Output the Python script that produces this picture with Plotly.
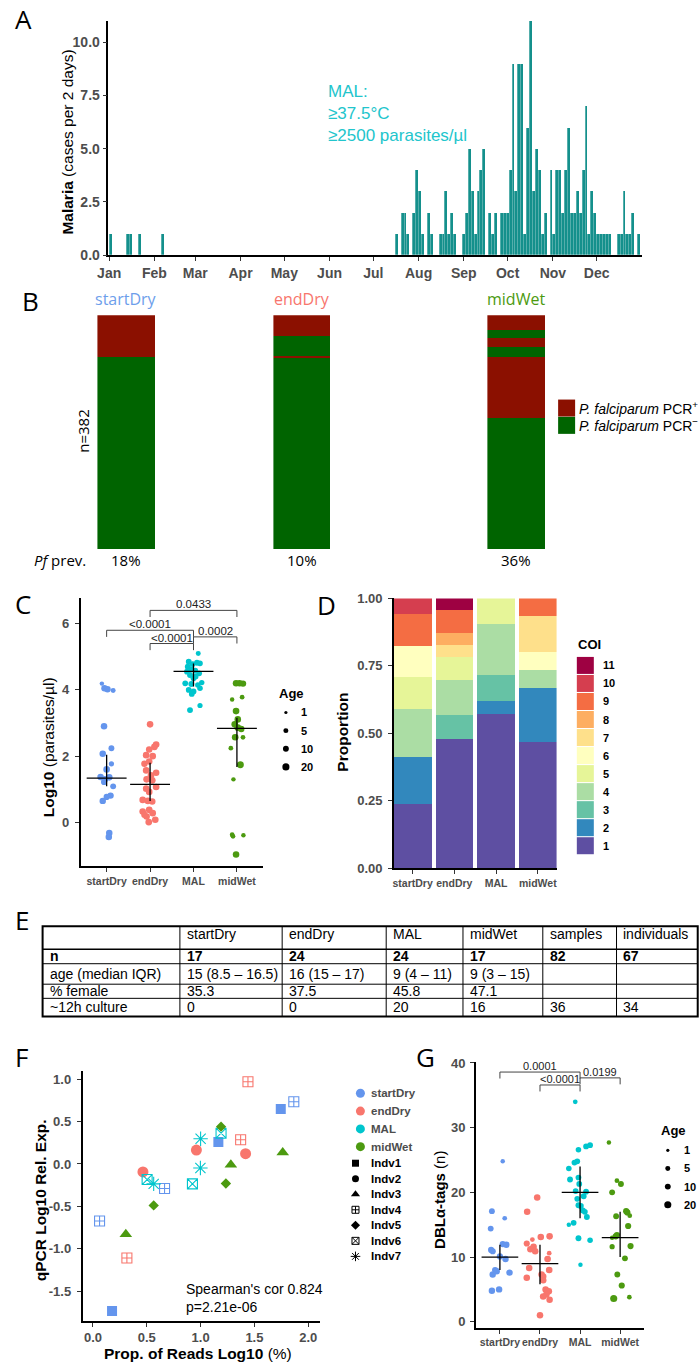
import datetime as dt
import plotly.graph_objects as go

W, H = 699, 1371
def X(px): return px / W
def Y(py): return 1 - py / H

FONT = "Liberation Sans, Arial, Helvetica, sans-serif"
HUM = "Open Sans, sans-serif"
GRAY = "#4D4D4D"

# ======================= DATA =======================
# ---- Panel A: malaria cases per 2-day bin (bin number counted from Jan 1) ----
month_labels = ["Jan", "Feb", "Mar", "Apr", "May", "Jun", "Jul", "Aug", "Sep", "Oct", "Nov", "Dec"]
case_bins = [0, 6, 7, 10, 18,
             98, 100, 101, 102, 104, 105, 106, 107, 109, 110, 113, 114, 115, 116, 117, 118,
             121, 122, 123, 124, 125, 126, 127, 128, 130, 131, 132, 134, 135, 136, 137, 138,
             139, 140, 141, 142, 143, 144, 145, 146, 147, 148, 149, 151, 152, 153, 154, 155,
             156, 157, 158, 159, 160, 161, 162, 163, 164, 165, 166, 167, 168, 169, 170, 171,
             174, 175, 176, 177, 178, 179, 181]
case_counts = [1, 1, 1, 1, 1,
               1, 2, 2, 1, 2, 4, 3, 1, 2, 1, 1, 1, 3, 1, 2, 1,
               1, 2, 5, 3, 1, 3, 4, 5, 2, 1, 2, 2, 2, 2, 4, 9,
               3, 9, 9, 1, 6, 11, 3, 5, 4, 1, 2, 4, 1, 4, 4, 2,
               4, 6, 2, 2, 3, 2, 4, 7, 1, 3, 2, 1, 1, 1, 1, 1,
               1, 1, 3, 1, 1, 2, 1]

# ---- Panel B: stacked individuals (bottom -> top, alternating PCR- / PCR+) ----
b_seasons = ["startDry", "endDry", "midWet"]
b_neg_1 = [313, 312, 214]
b_pos_1 = [69, 3, 100]
b_neg_2 = [0, 32, 16]
b_pos_2 = [0, 35, 14]
b_neg_3 = [0, 0, 14]
b_pos_3 = [0, 0, 24]
b_n_total = 382
b_legend_labels = ["<i>P. falciparum</i> PCR<sup>+</sup>", "<i>P. falciparum</i> PCR<sup>\u2212</sup>"]

# ---- Panel C: log10 parasites/ul ----
groups = ["startDry", "endDry", "MAL", "midWet"]
c_sd_val = [4.19, 4.05, 4.02, 3.98, 2.90, 2.24, 2.07, 1.77, 1.60, 1.37, 1.30, 1.36, 1.22, 1.09, 0.81, 0.77, 0.65, -0.32, -0.44]
c_sd_jit = [-0.11, -0.05, 0.02, 0.15, -0.06, 0.11, -0.09, 0.11, 0.0, -0.14, -0.04, 0.06, -0.06, 0.15, 0.09, 0.0, -0.09, 0.06, 0.05]
c_sd_age = [3, 14, 14, 5, 15, 10, 15, 6, 16, 15, 16, 15, 12, 10, 14, 12, 14, 15, 15]
c_ed_val = [2.96, 2.35, 2.28, 2.20, 2.03, 2.00, 1.84, 1.77, 1.57, 1.42, 1.50, 1.30, 1.27, 1.07, 1.02, 0.92, 0.65, 0.68, 0.63, 0.38, 0.33, 0.28, 0.18, 0.23, 0.08, 0.01]
c_ed_jit = [0.0, 0.14, 0.10, -0.02, -0.09, 0.06, -0.02, -0.13, -0.09, 0.02, 0.14, -0.08, 0.05, 0.14, -0.09, -0.02, -0.05, -0.17, 0.05, -0.02, -0.17, 0.06, -0.08, -0.13, 0.12, -0.03]
c_ed_age = [15, 16, 16, 15, 16, 16, 15, 14, 16, 16, 15, 16, 17, 16, 15, 16, 16, 16, 15, 17, 16, 16, 15, 14, 16, 17]
c_mal_val = [5.10, 4.85, 4.82, 4.78, 4.80, 4.62, 4.58, 4.55, 4.50, 4.45, 4.40, 4.35, 4.20, 4.18, 4.15, 4.22, 4.00, 3.95, 4.05, 3.88, 3.53, 3.39, 4.70]
c_mal_jit = [0.11, -0.11, 0.08, -0.02, 0.15, -0.05, 0.04, -0.15, 0.13, -0.08, 0.05, 0.0, -0.19, -0.05, 0.10, 0.19, -0.11, 0.0, 0.15, -0.04, 0.15, -0.08, -0.13]
c_mal_age = [5, 9, 10, 9, 8, 9, 10, 9, 9, 10, 8, 9, 9, 10, 8, 7, 9, 10, 8, 9, 6, 10, 11]
c_mw_val = [4.20, 4.20, 4.19, 3.71, 3.78, 3.36, 3.11, 2.96, 2.86, 2.82, 2.57, 2.57, 2.24, 1.74, 1.30, -0.37, -0.42, -0.39, -0.97]
c_mw_jit = [-0.02, 0.06, 0.14, -0.11, 0.12, -0.02, 0.02, -0.05, 0.02, 0.10, -0.04, 0.14, -0.14, 0.08, -0.08, -0.11, -0.09, 0.15, -0.02]
c_mw_age = [15, 14, 14, 3, 4, 16, 15, 16, 16, 14, 16, 4, 4, 18, 3, 4, 4, 3, 15]
c_median = [1.34, 1.15, 4.56, 2.84]
c_q1 = [1.09, 0.65, 4.10, 1.67]
c_q3 = [2.04, 1.80, 4.80, 3.16]
c_pairs = [(2, 4), (1, 3), (2, 3), (3, 4)]
c_pvals = ["0.0433", "<0.0001", "<0.0001", "0.0002"]
c_bracket_y = [6.4, 5.8, 5.4, 5.6]

age_levels = [1, 5, 10, 20]

# ---- Panel D: COI counts per group (startDry, endDry, MAL, midWet) ----
coi_levels = [1, 2, 3, 4, 5, 6, 7, 8, 9, 10, 11]
coi_counts = [
    [4, 11, 12, 7],   # 1
    [3, 0, 1, 3],     # 2
    [0, 2, 2, 0],     # 3
    [3, 3, 4, 1],     # 4
    [2, 2, 2, 0],     # 5
    [2, 0, 0, 1],     # 6
    [0, 1, 0, 2],     # 7
    [0, 1, 0, 0],     # 8
    [2, 2, 0, 1],     # 9
    [1, 0, 0, 0],     # 10
    [0, 1, 0, 0],     # 11
]

# ---- Panel E: table ----
tab_header = ["", "startDry", "endDry", "MAL", "midWet", "samples", "individuals"]
tab_row_labels = ["n", "age (median IQR)", "% female", "~12h culture"]
tab_n = ["17", "24", "24", "17", "82", "67"]
tab_age = ["15 (8.5 \u2013 16.5)", "16 (15 \u2013 17)", "9 (4 \u2013 11)", "9 (3 \u2013 15)", "", ""]
tab_female = ["35.3", "37.5", "45.8", "47.1", "", ""]
tab_culture = ["0", "0", "20", "16", "36", "34"]

# ---- Panel F ----
f_x = [1.745, 1.165, 0.177, 1.866, 0.665, 0.061,
       0.961, 0.464, 1.418, 1.372, 0.315, 1.440,
       1.000, 0.998, 0.564, 0.503, 0.924, 1.190,
       1.190, 1.235, 0.564, 1.281, 1.763, 0.305]
f_y = [0.648, 0.258, -1.735, 0.734, -0.290, -0.673,
       0.164, -0.094, 0.121, 0.285, -1.110, 0.970,
       0.297, -0.047, -0.235, -0.184, -0.235, 0.363,
       0.440, -0.231, -0.489, -0.008, 0.136, -0.830]
f_group = ["startDry"] * 6 + ["endDry"] * 6 + ["MAL"] * 6 + ["midWet"] * 6
f_indv = ["Indv1", "Indv1", "Indv1", "Indv4", "Indv4", "Indv4",
          "Indv2", "Indv2", "Indv2", "Indv4", "Indv4", "Indv4",
          "Indv7", "Indv7", "Indv7", "Indv6", "Indv6", "Indv6",
          "Indv5", "Indv5", "Indv5", "Indv3", "Indv3", "Indv3"]
indv_levels = ["Indv1", "Indv2", "Indv3", "Indv4", "Indv5", "Indv6", "Indv7"]
f_cor_text = "Spearman's cor 0.824<br>p=2.21e-06"
f_yticks = [-1.5, -1.0, -0.5, 0.0, 0.5, 1.0]
f_xticks = [0.0, 0.5, 1.0, 1.5, 2.0]

# ---- Panel G: DBLa-tags ----
g_sd_val = [24.8, 17.1, 16.0, 14.4, 12.0, 11.9, 11.1, 10.9, 10.1, 9.7, 8.0, 7.8, 7.6, 7.3, 4.8, 5.0]
g_sd_jit = [0.07, -0.20, 0.12, -0.23, 0.07, 0.16, -0.22, -0.18, 0.0, 0.14, -0.12, -0.08, 0.24, -0.18, -0.20, -0.02]
g_sd_age = [3, 10, 4, 10, 12, 14, 12, 12, 12, 14, 12, 14, 14, 14, 14, 14]
g_ed_val = [19.2, 17.0, 12.7, 13.1, 13.2, 12.1, 11.6, 11.2, 10.9, 10.6, 9.7, 8.3, 8.0, 7.3, 7.0, 6.4, 6.8, 5.0, 4.7, 4.2, 3.9, 3.4, 1.0]
g_ed_jit = [-0.07, -0.32, -0.19, 0.02, 0.24, -0.33, -0.16, -0.24, -0.12, 0.23, 0.19, -0.27, 0.23, 0.04, 0.08, 0.08, -0.33, 0.14, 0.22, 0.16, 0.08, 0.24, 0.0]
g_ed_age = [15, 15, 4, 15, 15, 12, 15, 15, 15, 4, 16, 15, 16, 15, 15, 15, 15, 15, 16, 15, 16, 15, 15]
g_mal_val = [34.0, 26.6, 27.1, 27.3, 24.6, 24.8, 23.7, 22.0, 22.3, 21.3, 20.2, 20.1, 19.4, 19.0, 18.0, 17.9, 17.2, 17.0, 16.2, 15.3, 15.0, 12.9, 12.6, 8.8]
g_mal_jit = [-0.12, -0.04, 0.15, 0.25, -0.14, -0.07, -0.28, -0.25, -0.04, -0.02, -0.11, 0.15, 0.09, -0.07, -0.04, 0.02, 0.07, 0.12, 0.17, -0.16, -0.28, -0.04, 0.25, 0.01]
g_mal_age = [4, 8, 9, 9, 9, 9, 8, 10, 9, 9, 9, 9, 10, 9, 10, 9, 9, 9, 10, 9, 3, 10, 8, 3]
g_mw_val = [27.7, 21.8, 21.3, 20.0, 16.3, 17.1, 16.9, 16.4, 14.8, 13.4, 13.2, 13.0, 11.6, 11.7, 9.8, 7.3, 5.6, 3.6, 3.8]
g_mw_jit = [-0.28, -0.08, 0.02, -0.20, -0.10, 0.15, 0.18, 0.24, 0.20, -0.08, -0.11, -0.20, -0.20, 0.26, 0.12, -0.07, 0.04, -0.16, 0.23]
g_mw_age = [3, 4, 10, 10, 10, 12, 12, 4, 12, 12, 12, 3, 6, 12, 10, 10, 12, 20, 4]
g_median = [10.0, 9.0, 20.0, 13.0]
g_q1 = [8.0, 5.8, 16.0, 10.0]
g_q3 = [11.9, 11.9, 24.0, 17.0]
g_pairs = [(1, 3), (2, 3), (3, 4)]
g_pvals = ["0.0001", "<0.0001", "0.0199"]
g_bracket_y = [38.6, 36.6, 37.7]

# ======================= STYLE =======================
group_colors = {"startDry": "#6495ED", "endDry": "#F8766D", "MAL": "#00C5CD", "midWet": "#4C9A10"}
b_label_colors = {"startDry": "#6D9EEB", "endDry": "#F8766D", "midWet": "#4C9A10"}
PCR_POS = "#8B1000"
PCR_NEG = "#006400"
BAR_A = "#14908C"
spectral = ["#5E4FA2", "#3288BD", "#66C2A5", "#ABDDA4", "#E6F598", "#FFFFBF",
            "#FEE08B", "#FDAE61", "#F46D43", "#D53E4F", "#9E0142"]
indv_symbol = {"Indv1": "square", "Indv2": "circle", "Indv3": "triangle-up",
               "Indv4": "square-cross-open", "Indv5": "diamond", "Indv6": "square-x-open",
               "Indv7": "asterisk-open"}
indv_size = {"Indv1": 10, "Indv2": 11, "Indv3": 11, "Indv4": 10, "Indv5": 8, "Indv6": 10, "Indv7": 12}
CAT_TICK = 10.5


def age_size(a):
    return 3.2 + 3.9 * ((a - 1) / 19.0) ** 0.5


def fmt1(v):
    return f"{v:.1f}"   # plain hyphen minus like the reference


def ax(size=13, **kw):
    d = dict(showline=True, linecolor="black", linewidth=1.6, ticks="outside", ticklen=4,
             tickwidth=1.2, tickcolor="#333333", showgrid=False, zeroline=False,
             tickfont=dict(family=FONT, size=size, color=GRAY, weight="bold"), fixedrange=True)
    d.update(kw)
    return d


fig = go.Figure()

# ---------------- Panel A ----------------
jan1 = dt.datetime(2017, 1, 1)
bin_centers = [jan1 + dt.timedelta(days=2 * b + 1) for b in case_bins]
fig.add_trace(go.Bar(x=bin_centers, y=case_counts, width=2 * 86400000,
                     marker=dict(color=BAR_A, line=dict(color="rgba(255,255,255,0.55)", width=0.5)),
                     xaxis="x", yaxis="y", showlegend=False))

# ---------------- Panel B ----------------
b_layers = [b_neg_1, b_pos_1, b_neg_2, b_pos_2, b_neg_3, b_pos_3]
b_layer_cols = [PCR_NEG, PCR_POS, PCR_NEG, PCR_POS, PCR_NEG, PCR_POS]
b_axes = ["x2", "x3", "x4"]
for i, s in enumerate(b_seasons):
    for layer, col in zip(b_layers, b_layer_cols):
        fig.add_trace(go.Bar(x=[s], y=[layer[i]], width=1, marker=dict(color=col, line=dict(width=0)),
                             xaxis=b_axes[i], yaxis="y2", showlegend=False))

# ---------------- Panel C ----------------
c_sets = [(c_sd_val, c_sd_jit, c_sd_age), (c_ed_val, c_ed_jit, c_ed_age),
          (c_mal_val, c_mal_jit, c_mal_age), (c_mw_val, c_mw_jit, c_mw_age)]
for gi, (vals, jit, ages) in enumerate(c_sets):
    fig.add_trace(go.Scatter(x=[gi + 1 + j for j in jit], y=vals, mode="markers",
                             marker=dict(size=[age_size(a) for a in ages], color=group_colors[groups[gi]],
                                         opacity=1, line=dict(width=0)),
                             xaxis="x5", yaxis="y5", showlegend=False))
fig.add_trace(go.Scatter(x=[1, 2, 3, 4], y=c_median, mode="markers",
                         marker=dict(symbol="line-ew-open", size=28.5, color="black", opacity=1,
                                     line=dict(color="black", width=1.3)),
                         error_y=dict(type="data", symmetric=False,
                                      array=[q - m for q, m in zip(c_q3, c_median)],
                                      arrayminus=[m - q for q, m in zip(c_q1, c_median)],
                                      width=0, thickness=1.3, color="black"),
                         xaxis="x5", yaxis="y5", showlegend=False))

# ---------------- Panel D ----------------
totals = [sum(coi_counts[k][g] for k in range(len(coi_levels))) for g in range(4)]
for k, lev in enumerate(coi_levels):
    fig.add_trace(go.Bar(x=[1, 2, 3, 4], y=[coi_counts[k][g] / totals[g] for g in range(4)], width=0.9,
                         marker=dict(color=spectral[k], line=dict(width=0)),
                         xaxis="x6", yaxis="y6", showlegend=False))

# ---------------- Panel F ----------------
for g in groups:
    idx = [i for i, gg in enumerate(f_group) if gg == g]
    syms = [indv_symbol[f_indv[i]] for i in idx]
    fig.add_trace(go.Scatter(x=[f_x[i] for i in idx], y=[f_y[i] for i in idx], mode="markers",
                             marker=dict(symbol=syms, size=[indv_size[f_indv[i]] for i in idx],
                                         color=group_colors[g], opacity=1,
                                         line=dict(color=group_colors[g],
                                                   width=[1.1 if s.endswith("open") else 0 for s in syms])),
                             xaxis="x7", yaxis="y7", showlegend=False))

# ---------------- Panel G ----------------
g_sets = [(g_sd_val, g_sd_jit, g_sd_age), (g_ed_val, g_ed_jit, g_ed_age),
          (g_mal_val, g_mal_jit, g_mal_age), (g_mw_val, g_mw_jit, g_mw_age)]
for gi, (vals, jit, ages) in enumerate(g_sets):
    fig.add_trace(go.Scatter(x=[gi + 1 + j for j in jit], y=vals, mode="markers",
                             marker=dict(size=[age_size(a) for a in ages], color=group_colors[groups[gi]],
                                         opacity=1, line=dict(width=0)),
                             xaxis="x8", yaxis="y8", showlegend=False))
fig.add_trace(go.Scatter(x=[1, 2, 3, 4], y=g_median, mode="markers",
                         marker=dict(symbol="line-ew-open", size=26.2, color="black", opacity=1,
                                     line=dict(color="black", width=1.3)),
                         error_y=dict(type="data", symmetric=False,
                                      array=[q - m for q, m in zip(g_q3, g_median)],
                                      arrayminus=[m - q for q, m in zip(g_q1, g_median)],
                                      width=0, thickness=1.3, color="black"),
                         xaxis="x8", yaxis="y8", showlegend=False))

# ======================= LEGEND KEYS (pixel overlay axis) =======================
ann = []
shapes = []


def txt(x, y, text, size=12, family=FONT, color="black", xanchor="center", yanchor="middle",
        angle=0, align="left", weight="normal"):
    ann.append(dict(x=X(x), y=Y(y), xref="paper", yref="paper", text=text, showarrow=False,
                    xanchor=xanchor, yanchor=yanchor, textangle=angle, align=align,
                    font=dict(family=family, size=size, color=color, weight=weight)))


def legend_keys(x0, y0, step, symbols, sizes, colors, labels, text_x, font_size, text_color,
                line_colors=None, line_widths=None):
    ys = [y0 + i * step for i in range(len(labels))]
    fig.add_trace(go.Scatter(x=[x0] * len(labels), y=ys, mode="markers",
                             marker=dict(symbol=symbols, size=sizes, color=colors, opacity=1,
                                         line=dict(color=line_colors or "white",
                                                   width=line_widths if line_widths is not None else 0)),
                             xaxis="x9", yaxis="y9", showlegend=False, hoverinfo="skip"))
    for yy, lab in zip(ys, labels):
        txt(text_x, yy, lab, size=font_size, color=text_color, xanchor="left", weight="bold")


# B legend
fig.add_trace(go.Scatter(x=[564.5, 564.5], y=[405.5, 423.0], mode="markers",
                         marker=dict(symbol="square", size=17, color=[PCR_POS, PCR_NEG], opacity=1,
                                     line=dict(width=0)),
                         xaxis="x9", yaxis="y9", showlegend=False, hoverinfo="skip"))
for yy, lab in zip([405.5, 423.0], b_legend_labels):
    txt(575.5, yy, lab, size=14, xanchor="left")

# C age legend
txt(270, 694, "<b>Age</b>", size=13, xanchor="left")
legend_keys(279.3, 713.3, 18.33, ["circle"] * 4, [age_size(a) for a in age_levels], ["black"] * 4,
            [str(a) for a in age_levels], 293, 11, "black")

# D COI legend
txt(574.5, 645, "<b>COI</b>", size=13, xanchor="left")
legend_keys(583.5, 665.7, 18.23, ["square"] * 11, [17] * 11, list(reversed(spectral)),
            [str(l) for l in reversed(coi_levels)], 599, 11, "black", line_colors="white", line_widths=0)

# F legends
legend_keys(355, 1098.3, 18.0, ["circle"] * 4, [9] * 4, [group_colors[g] for g in groups],
            groups, 363.5, 11.5, GRAY)
legend_keys(350, 1169.0, 15.7, [indv_symbol[i] for i in indv_levels], [7, 7, 8, 7, 7, 7, 8],
            ["black"] * 7, indv_levels, 363.5, 11.5, "black", line_colors="black",
            line_widths=[1 if indv_symbol[i].endswith("open") else 0 for i in indv_levels])

# G age legend
txt(658, 1136, "<b>Age</b>", size=13, xanchor="left")
legend_keys(667.3, 1156.0, 18.33, ["circle"] * 4, [age_size(a) for a in age_levels], ["black"] * 4,
            [str(a) for a in age_levels], 682, 11, "black")

# ======================= LAYOUT =======================
month_ticks = [dt.datetime(2017, m, 1) for m in range(1, 13)]
layout = dict(
    width=W, height=H, margin=dict(l=0, r=0, t=0, b=0),
    paper_bgcolor="white", plot_bgcolor="rgba(0,0,0,0)", barmode="stack", bargap=0,
    showlegend=False,
    # A
    xaxis=ax(size=14, domain=[X(99), X(641)], anchor="y", type="date",
             range=[dt.datetime(2016, 12, 31, 12), dt.datetime(2018, 1, 1)],
             tickvals=month_ticks, ticktext=month_labels, tickangle=0),
    yaxis=ax(size=14, domain=[Y(251), Y(14)], anchor="x", range=[0, 11],
             tickvals=[0, 2.5, 5, 7.5, 10], ticktext=["0.0", "2.5", "5.0", "7.5", "10.0"]),
    # B
    xaxis2=dict(domain=[X(87.8), X(146.7)], anchor="y2", range=[-0.5, 0.5], visible=False, fixedrange=True),
    xaxis3=dict(domain=[X(266.6), X(325.0)], anchor="y2", range=[-0.5, 0.5], visible=False, fixedrange=True),
    xaxis4=dict(domain=[X(484.0), X(542.6)], anchor="y2", range=[-0.5, 0.5], visible=False, fixedrange=True),
    yaxis2=dict(domain=[Y(548.3), Y(311.7)], anchor="x2", range=[0, b_n_total], visible=False, fixedrange=True),
    # C
    xaxis5=ax(size=CAT_TICK, domain=[X(70.7), X(256)], anchor="y5", range=[0.4, 4.6], tickvals=[1, 2, 3, 4],
              ticktext=groups, tickangle=0),
    yaxis5=ax(domain=[Y(869), Y(598)], anchor="x5", range=[-1.33, 6.76], tickvals=[0, 2, 4, 6],
              ticklabelstandoff=3),
    # D
    xaxis6=ax(size=CAT_TICK, domain=[X(389), X(554.3)], anchor="y6", range=[0.55, 4.45],
              tickvals=[1, 2, 3, 4], ticktext=groups, tickangle=0),
    yaxis6=ax(domain=[Y(870.7), Y(598)], anchor="x6", range=[0, 1], tickvals=[0, 0.25, 0.5, 0.75, 1.0],
              tickformat=".2f", ticklabelstandoff=3),
    # F
    xaxis7=ax(domain=[X(72.7), X(314)], anchor="y7", range=[-0.097, 2.11], tickvals=f_xticks,
              ticktext=[fmt1(v) for v in f_xticks], tickangle=0),
    yaxis7=ax(domain=[Y(1328.3), Y(1075.5)], anchor="x7", range=[-1.85, 1.1],
              tickvals=f_yticks, ticktext=[fmt1(v) for v in f_yticks], ticklabelstandoff=3),
    # G
    xaxis8=ax(size=CAT_TICK, domain=[X(472.3), X(643.3)], anchor="y8", range=[0.4, 4.6],
              tickvals=[1, 2, 3, 4], ticktext=groups, tickangle=0),
    yaxis8=ax(domain=[Y(1335.7), Y(1066.7)], anchor="x8", range=[-0.98, 40.15], tickvals=[0, 10, 20, 30, 40],
              ticklabelstandoff=2),
    # pixel overlay for legend keys
    xaxis9=dict(domain=[0, 1], anchor="y9", range=[0, W], visible=False, fixedrange=True),
    yaxis9=dict(domain=[0, 1], anchor="x9", range=[H, 0], visible=False, fixedrange=True),
)
fig.update_layout(**layout)

# panel letters
for letter, lx, ly in [("A", 2, 12.5), ("B", 9, 297), ("C", 2, 604), ("D", 309, 605),
                       ("E", 2, 923), ("F", 2, 1062), ("G", 409, 1062)]:
    txt(lx, ly, letter, size=26, family=HUM, xanchor="left")

# A texts
txt(57, 137, "<b>Malaria</b> (cases per 2 days)", size=15.5, angle=-90)
txt(320, 108, "MAL:<br>\u226537.5\u00b0C<br>\u22652500 parasites/\u00b5l", size=17, color="#22C5CC",
    xanchor="left", align="left")

# B texts
b_centers = [117.2, 295.8, 513.3]
for i, s in enumerate(b_seasons):
    txt(b_centers[i], 295, s, size=16, family=HUM, color=b_label_colors[s])
    pos = b_pos_1[i] + b_pos_2[i] + b_pos_3[i]
    txt(b_centers[i], 559, f"{round(100 * pos / b_n_total)}%", size=15, family=HUM)
txt(78, 559, "<i>Pf</i> prev.", size=15, family=HUM, xanchor="right")
txt(73.6, 428, f"n={b_n_total}", size=15, family=HUM, angle=-90)

# C / D / F / G titles
txt(38, 748, "<b>Log10</b> (parasites/\u00b5l)", size=15.5, angle=-90)
txt(337, 733, "<b>Proportion</b>", size=15.5, angle=-90)
txt(30, 1207, "<b>qPCR Log10 Rel. Exp.</b>", size=15.5, angle=-90)
txt(190, 1361.5, "<b>Prop. of Reads Log10</b> (%)", size=15.5)
txt(436, 1206, "<b>DBL\u03b1-tags</b> (n)", size=15, angle=-90)
txt(176, 1305, f_cor_text, size=14, xanchor="left")


# significance brackets
def brackets(xref, yref, pairs, ys, labels, drop, size):
    for (a, b), yv, lab in zip(pairs, ys, labels):
        shapes.append(dict(type="path", xref=xref, yref=yref,
                           path=f"M {a},{yv - drop} L {a},{yv} L {b},{yv} L {b},{yv - drop}",
                           line=dict(color="#444444", width=1)))
        ann.append(dict(x=(a + b) / 2, y=yv, xref=xref, yref=yref, text=lab, showarrow=False,
                        yanchor="bottom", yshift=-2, font=dict(family=FONT, size=size, color="#222222")))


brackets("x5", "y5", c_pairs, c_bracket_y, c_pvals, 0.2, 11.5)
brackets("x8", "y8", g_pairs, g_bracket_y, g_pvals, 1.0, 11)

# ---------------- Panel E table ----------------
tab_col_w = [139.5, 103.9, 105.7, 78.0, 81.1, 74.9, 82.5]
tab_row_h = [23.4, 14.6, 20.7, 14.3, 18.4]
tab_left, tab_top = 32.1, 929.3
col_edges = [tab_left]
for w_ in tab_col_w:
    col_edges.append(col_edges[-1] + w_)
row_edges = [tab_top]
for h_ in tab_row_h:
    row_edges.append(row_edges[-1] + h_)
for xe in col_edges[1:-1]:
    shapes.append(dict(type="line", xref="paper", yref="paper", x0=X(xe), x1=X(xe),
                       y0=Y(row_edges[0]), y1=Y(row_edges[-1]), line=dict(color="black", width=1)))
for k, ye in enumerate(row_edges[1:-1]):
    shapes.append(dict(type="line", xref="paper", yref="paper", x0=X(col_edges[0]), x1=X(col_edges[-1]),
                       y0=Y(ye), y1=Y(ye), line=dict(color="black", width=1.6 if k == 0 else 1)))
shapes.append(dict(type="rect", xref="paper", yref="paper", x0=X(col_edges[0]), x1=X(col_edges[-1]),
                   y0=Y(row_edges[0]), y1=Y(row_edges[-1]), line=dict(color="black", width=2)))
TF = 14
for c, h_ in enumerate(tab_header):
    if h_:
        txt(col_edges[c] + 5, row_edges[0] + 8, h_, size=TF, xanchor="left")
rows = [tab_n, tab_age, tab_female, tab_culture]
for r, (lab, vals) in enumerate(zip(tab_row_labels, rows)):
    yc = (row_edges[r + 1] + row_edges[r + 2]) / 2
    bold = (r == 0)
    txt(col_edges[0] + 5, yc, f"<b>{lab}</b>" if bold else lab, size=TF, xanchor="left")
    for c, v in enumerate(vals):
        if v:
            txt(col_edges[c + 1] + 5, yc, f"<b>{v}</b>" if bold else v, size=TF, xanchor="left")

fig.update_layout(annotations=ann, shapes=shapes)
fig.write_html("out.html")
